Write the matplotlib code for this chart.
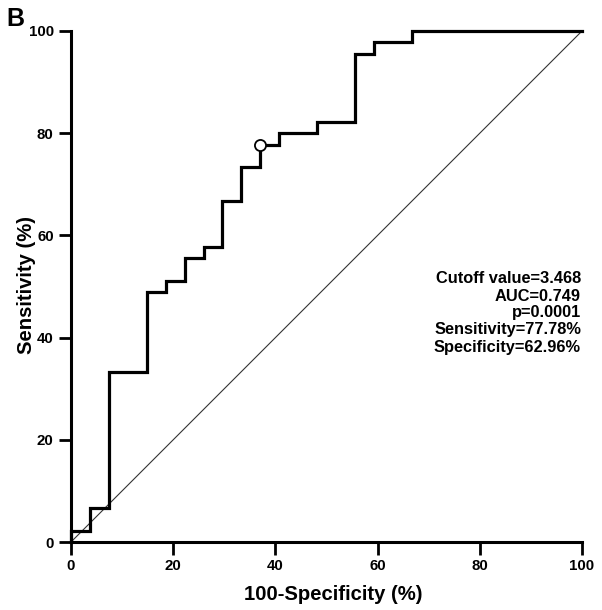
import matplotlib
matplotlib.use("Agg")
import matplotlib.pyplot as plt
from matplotlib import font_manager

# ROC curve data (percent)
fpr = [0, 0, 3.70, 3.70, 7.41, 7.41, 14.81, 14.81, 18.52, 18.52, 22.22, 22.22,
       25.93, 25.93, 29.63, 29.63, 33.33, 33.33, 37.04, 37.04, 40.74, 40.74,
       48.15, 48.15, 55.56, 55.56, 59.26, 59.26, 66.67, 66.67, 100]
tpr = [0, 2.22, 2.22, 6.67, 6.67, 33.33, 33.33, 48.89, 48.89, 51.11, 51.11, 55.56,
       55.56, 57.78, 57.78, 66.67, 66.67, 73.33, 73.33, 77.78, 77.78, 80.00,
       80.00, 82.22, 82.22, 95.56, 95.56, 97.78, 97.78, 100, 100]
cutoff_point = (37.04, 77.78)
xticks = [0, 20, 40, 60, 80, 100]
yticks = [0, 20, 40, 60, 80, 100]
stats_lines = ["Cutoff value=3.468", "AUC=0.749", "p=0.0001",
               "Sensitivity=77.78%", "Specificity=62.96%"]

names = {f.name for f in font_manager.fontManager.ttflist}
main_font = "Liberation Sans" if "Liberation Sans" in names else "DejaVu Sans"
narrow_font = "Liberation Sans Narrow" if "Liberation Sans Narrow" in names else main_font

W, H = 602, 610
fig = plt.figure(figsize=(W / 100, H / 100), dpi=100)
ax = fig.add_axes([71 / W, (H - 542) / H, 511 / W, 511 / H])

ax.plot([0, 100], [0, 100], color="#333333", lw=0.8, clip_on=False)
ax.plot(fpr, tpr, color="black", lw=2.3, clip_on=False, solid_joinstyle="miter")
ax.plot([cutoff_point[0]], [cutoff_point[1]], marker="o", ms=8, mfc="white",
        mec="black", mew=1.3, clip_on=False, zorder=5)

ax.set_xlim(0, 100)
ax.set_ylim(0, 100)
ax.set_xticks(xticks)
ax.set_yticks(yticks)
for s in ["top", "right"]:
    ax.spines[s].set_visible(False)
for s in ["left", "bottom"]:
    ax.spines[s].set_linewidth(2.2)
ax.tick_params(axis="both", direction="out", length=9, width=2.0, pad=3.5,
               labelsize=10.8)
for lab in ax.get_xticklabels() + ax.get_yticklabels():
    lab.set_fontfamily(main_font)
    lab.set_fontweight("bold")

# stats annotation
baselines = [283.3, 300.7, 317.3, 334.3, 351.7]
for line, yb in zip(stats_lines, baselines):
    fig.text(581 / W, (H - yb) / H, line, ha="right", va="baseline",
             fontsize=11.8, fontweight="bold", family=narrow_font)

fig.text(333 / W, (H - 600) / H, "100-Specificity (%)", ha="center",
         va="baseline", fontsize=14.6, fontweight="bold", family=main_font)
fig.text(26 / W, (H - 285) / H, "Sensitivity (%)", ha="center", va="center",
         rotation=90, fontsize=14.6, fontweight="bold", family=main_font)
fig.text(6 / W, (H - 7) / H, "B", ha="left", va="top", fontsize=18,
         fontweight="bold", family=main_font)

fig.savefig("out.png", dpi=100)
